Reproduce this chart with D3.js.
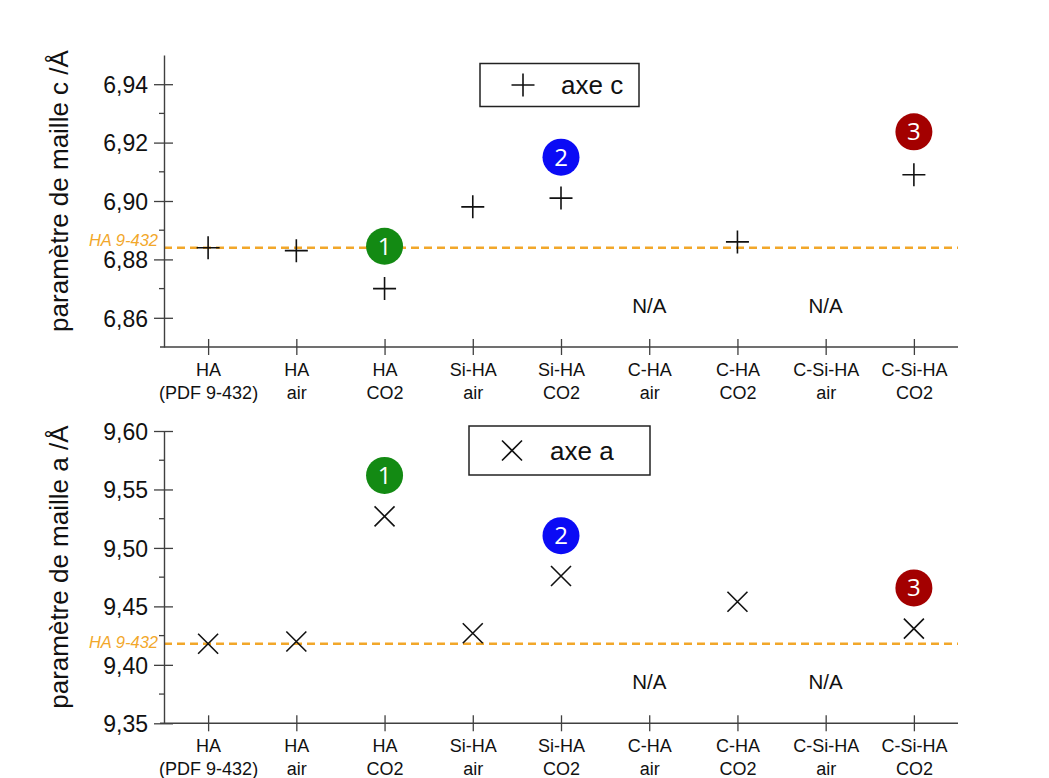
<!DOCTYPE html>
<html><head><meta charset="utf-8">
<script src="https://cdn.jsdelivr.net/npm/d3@7"></script>
<style>
html,body{margin:0;padding:0;background:#fff;}
svg{display:block;font-family:"Liberation Sans",Arial,sans-serif;}
</style></head>
<body>
<svg id="chart" width="1049" height="778"></svg>
<script>
// ---- data ----
const categoryLine1 = ["HA","HA","HA","Si-HA","Si-HA","C-HA","C-HA","C-Si-HA","C-Si-HA"];
const categoryLine2 = ["(PDF 9-432)","air","CO2","air","CO2","air","CO2","air","CO2"];
const cValues = [6.884, 6.883, 6.870, 6.898, 6.901, null, 6.886, null, 6.909];
const aValues = [9.418, 9.420, 9.527, 9.427, 9.476, null, 9.454, null, 9.431];
const refC = 6.884;
const refA = 9.418;
const refLabel = "HA 9-432";
const cTicks = [6.86, 6.88, 6.90, 6.92, 6.94];
const cMinorTicks = [6.87, 6.89, 6.91, 6.93];
const aTicks = [9.35, 9.40, 9.45, 9.50, 9.55, 9.60];
const aMinorTicks = [9.375, 9.425, 9.475, 9.525, 9.575];
const cBadges = [{cat:2, value:6.8845, label:"1"},{cat:4, value:6.915, label:"2"},{cat:8, value:6.9237, label:"3"}];
const aBadges = [{cat:2, value:9.562, label:"1"},{cat:4, value:9.5105, label:"2"},{cat:8, value:9.4658, label:"3"}];
const badgeColors = {"1":"#138a13","2":"#0b0bf5","3":"#a30000"};

// ---- drawing ----
const svg = d3.select("#chart");
const X0 = 164, X1 = 958;
const x = d3.scalePoint().domain(d3.range(categoryLine1.length)).range([X0, X1]).padding(0.5);
const axisColor = "#404040";
const orange = "#f2a72a";
const fmt = d => d3.format(".2f")(d).replace(".", ",");

function panel(opts){
  const y = d3.scaleLinear().domain(opts.domain).range(opts.range);
  const g = svg.append("g");
  const yBottom = opts.range[0];

  // reference dashed line
  g.append("line").attr("x1", X0).attr("x2", X1)
    .attr("y1", y(opts.ref)).attr("y2", y(opts.ref))
    .attr("stroke", orange).attr("stroke-width", 2.6).attr("stroke-dasharray", "8,5");
  g.append("text").attr("x", 158).attr("y", y(opts.ref) + opts.refDy)
    .attr("text-anchor", "end").attr("font-style", "italic").attr("font-size", 16.5)
    .attr("fill", orange).text(refLabel);

  // y axis
  const ya = g.append("g").attr("transform", `translate(${X0},0)`)
    .call(d3.axisLeft(y).tickValues(opts.ticks).tickSize(10).tickSizeOuter(0).tickPadding(6).tickFormat(fmt));
  ya.select(".domain").attr("stroke", axisColor).attr("stroke-width", 1.4);
  ya.selectAll(".tick line").attr("stroke", axisColor).attr("stroke-width", 1.3);
  ya.selectAll(".tick").append("line").attr("x1", 0).attr("x2", 9).attr("stroke", axisColor).attr("stroke-width", 1.3);
  ya.selectAll(".tick text").attr("font-size", 23).attr("fill", "#111").attr("font-family", "Liberation Sans, Arial, sans-serif").attr("dy", "0.36em");
  g.append("g").selectAll("line").data(opts.minor).join("line")
    .attr("x1", X0 - 5).attr("x2", X0).attr("y1", d => y(d)).attr("y2", d => y(d))
    .attr("stroke", axisColor).attr("stroke-width", 1.3);

  // x axis
  const xa = g.append("g").attr("transform", `translate(0,${yBottom})`)
    .call(d3.axisBottom(x).tickSize(8).tickSizeOuter(0).tickFormat(""));
  xa.select(".domain").attr("stroke", axisColor).attr("stroke-width", 1.4).attr("d", `M${X0 - 4},0H${X1}`);
  xa.selectAll(".tick line").attr("y1", -8).attr("stroke", axisColor).attr("stroke-width", 1.3);
  const lab = xa.selectAll(".tick").append("text").attr("fill", "#111").attr("font-size", 18)
    .attr("font-family", "Liberation Sans, Arial, sans-serif").attr("text-anchor", "middle");
  lab.append("tspan").attr("x", 0).attr("y", 29).text(i => categoryLine1[i]);
  lab.append("tspan").attr("x", 0).attr("y", 52).text(i => categoryLine2[i]);

  // y title
  g.append("text").attr("transform", `translate(68,${(opts.range[0] + opts.range[1]) / 2 - 10}) rotate(-90)`)
    .attr("text-anchor", "middle").attr("font-size", 26).attr("fill", "#111").text(opts.title);

  // N/A labels
  g.selectAll("text.na").data(opts.values.map((v, i) => ({v, i})).filter(d => d.v === null)).join("text")
    .attr("class", "na").attr("x", d => x(d.i)).attr("y", yBottom - 34)
    .attr("text-anchor", "middle").attr("font-size", 20.5).attr("fill", "#111").text("N/A");

  // markers
  const pts = opts.values.map((v, i) => ({v, i})).filter(d => d.v !== null);
  const mk = g.append("g").attr("stroke", "#111").attr("stroke-width", 1.6).attr("fill", "none");
  pts.forEach(d => drawMarker(mk, opts.marker, x(d.i), y(d.v)));

  // badges
  const bg = g.selectAll("g.badge").data(opts.badges).join("g").attr("class", "badge")
    .attr("transform", d => `translate(${x(d.cat)},${y(d.value)})`);
  bg.append("circle").attr("r", 18.5).attr("fill", d => badgeColors[d.label]);
  bg.append("text").attr("text-anchor", "middle").attr("y", 8.5).attr("fill", "#fff")
    .attr("font-family", "Open Sans, Noto Sans, sans-serif").attr("font-size", 24).text(d => d.label);

  // legend
  const L = opts.legend;
  g.append("rect").attr("x", L.x).attr("y", L.y).attr("width", L.w).attr("height", L.h)
    .attr("fill", "#fff").attr("stroke", "#222").attr("stroke-width", 1.5);
  drawMarker(g.append("g").attr("stroke", "#111").attr("stroke-width", 1.6), opts.marker, L.x + 43, L.y + L.h / 2);
  g.append("text").attr("x", L.x + 81).attr("y", L.y + L.h / 2 + 9).attr("font-size", 26).attr("fill", "#111").text(opts.legendText);
}

function drawMarker(g, type, cx, cy){
  if (type === "plus") {
    const s = 11.5;
    g.append("path").attr("d", `M${cx - s},${cy}H${cx + s}M${cx},${cy - s}V${cy + s}`);
  } else {
    const s = 10;
    g.append("path").attr("d", `M${cx - s},${cy - s}L${cx + s},${cy + s}M${cx - s},${cy + s}L${cx + s},${cy - s}`);
  }
}

panel({domain:[6.85, 6.95], range:[347, 55], ticks:cTicks, minor:cMinorTicks, values:cValues, ref:refC, refDy:-2,
  marker:"plus", badges:cBadges, title:"paramètre de maille c /Å", legendText:"axe c",
  legend:{x:480, y:63.5, w:159, h:43}});
panel({domain:[9.35, 9.60], range:[723.3, 431], ticks:aTicks, minor:aMinorTicks, values:aValues, ref:refA, refDy:4,
  marker:"x", badges:aBadges, title:"paramètre de maille a /Å", legendText:"axe a",
  legend:{x:469, y:426, w:181, h:49}});
</script>
</body></html>
